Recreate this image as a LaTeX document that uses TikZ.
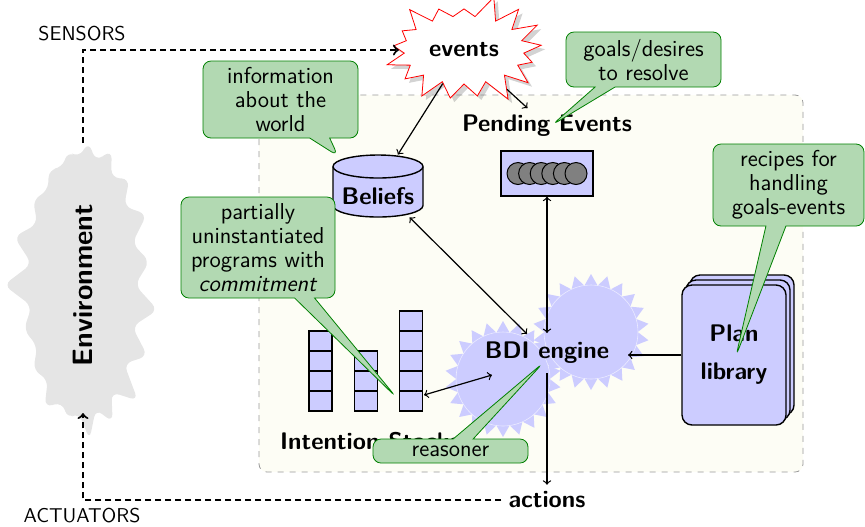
\documentclass[tikz,border=0pt]{standalone}
\usetikzlibrary{shapes.geometric,shapes.symbols,shapes.callouts,shadows}
\definecolor{panelfill}{RGB}{253,253,245}
\colorlet{notefill}{green!50!black!30}
\colorlet{noteline}{green!50!black}
\colorlet{partfill}{blue!20}
\begin{document}
\begin{tikzpicture}[x=0.5pt,y=-0.5pt,
  font=\sffamily,
  lbl/.style={font=\sffamily\bfseries\fontsize{12}{14}\selectfont},
  caps/.style={font=\sffamily\fontsize{10}{12}\selectfont},
  note/.style={rectangle callout, rounded corners=4pt, draw=noteline, fill=notefill,
    font=\sffamily\fontsize{11.5}{12}\selectfont, align=center, inner sep=0pt,
    callout pointer width=10pt, minimum width=77.5pt, text width=70pt},
  flow/.style={->, line width=0.6pt},
  twoway/.style={<->, line width=0.6pt},
  sense/.style={->, line width=1pt, dash pattern=on 3pt off 2pt},
  cell/.style={draw, fill=partfill, minimum width=11.5pt, minimum height=10pt,
    inner sep=0pt, line width=0.6pt},
  gear/.style={star, star points=22, star point ratio=1.24, minimum size=58pt,
    fill=partfill, inner sep=0pt},
  planbox/.style={draw, fill=partfill, rounded corners=5pt, minimum width=52pt,
    minimum height=70pt, line width=0.7pt},
]
\path[use as bounding box] (0,0) rectangle (865,526);

% agent panel
\draw[dashed, gray!80, fill=panelfill, rounded corners=4pt] (259,95) rectangle (803,472);

% environment
\node[starburst, random starburst=7, starburst points=19, starburst point height=15pt,
  rounded corners=4pt, fill=gray!20, rotate=90, minimum width=158pt, minimum height=82pt,
  font=\sffamily\bfseries\fontsize{14}{17}\selectfont] (env) at (83,285) {Environment};
\coordinate (envTop) at (83,143);
\coordinate (envBot) at (83,413);

% incoming events
\node[starburst, random starburst, draw=red, fill=white,
  drop shadow={opacity=.35, shadow xshift=2pt, shadow yshift=-2pt},
  starburst point height=12pt, minimum width=84pt, minimum height=58pt,
  inner sep=0pt, lbl] (events) at (464,50) {events};

% reasoning engine
\node[gear] (gearA) at (503,379) {};
\node[gear] (gearB) at (591,332) {};
\draw[white, opacity=.6, line width=0.3pt] (gearA.center) circle[radius=23.5pt];
\draw[white, opacity=.6, line width=0.3pt] (gearB.center) circle[radius=23.5pt];

% pending events queue
\node[lbl] (pendlbl) at (547,126) {Pending Events};
\node[draw, fill=partfill, minimum width=46pt, minimum height=22.5pt, line width=0.7pt]
  (queue) at (547,173.5) {};
\foreach \i in {0,...,5}
  \draw[fill=gray, line width=0.5pt] (518+11.6*\i,173.5) circle[radius=5.5pt];

% belief base
\path[draw, fill=partfill, line width=0.7pt] (333,166.5) -- (333,205.5)
  arc[start angle=180, end angle=360, x radius=22.5pt, y radius=5.75pt] -- (423,166.5)
  arc[start angle=0, end angle=180, x radius=22.5pt, y radius=5.75pt] -- cycle;
\draw[line width=0.7pt] (333,166.5)
  arc[start angle=180, end angle=360, x radius=22.5pt, y radius=5.75pt];
\node[minimum width=45pt, minimum height=31pt, inner sep=0pt] (beliefs) at (378,186) {};
\node[lbl] (beliefslbl) at (378,196) {Beliefs};

% intention stacks
\foreach \x/\n in {320.5/4, 366/3, 411/5}
  \foreach \k in {1,...,\n}
    \node[cell] at (\x,421-20*\k) {};
\coordinate (stk) at (424,395);
\node[lbl] (stacklbl) at (370,441) {Intention Stacks};

% plan library
\node[planbox] (planback) at (742,345) {};
\node[planbox] (planmid) at (738,350) {};
\node[planbox, lbl, align=center] (plan) at (734,355) {Plan\\[5pt]library};

% engine label and arrow ends
\node[lbl] (bdi) at (547,353) {BDI engine};
\coordinate (bdiT) at (547,333);
\coordinate (bdiB) at (547,373);
\coordinate (bdiNW) at (527,334);
\coordinate (bdiW) at (492,375);
\coordinate (bdiE) at (628,355);

\node[lbl] (actions) at (547,500) {actions};
\node[caps] (sensors) at (82,34) {SENSORS};
\node[caps] (actuators) at (82,516) {ACTUATORS};

% perception and action loop
\draw[sense] (envTop) |- (events);
\draw[sense] (actions) -| (envBot);

% internal flows
\draw[flow] (events) -- (beliefs);
\draw[flow] (events) -- (pendlbl);
\draw[twoway] (beliefs) -- (bdiNW);
\draw[twoway] (queue) -- (bdiT);
\draw[twoway] (stk) -- (bdiW);
\draw[flow] (plan) -- (bdiE);
\draw[flow] (bdiB) -- (actions);

% annotations
\coordinate (tipWorld) at (338,156);
\coordinate (tipGoals) at (552,125);
\coordinate (tipRecipes) at (736,356);
\coordinate (tipCommit) at (396,397);
\coordinate (tipReason) at (543,363);
\node[note, minimum height=38.5pt, callout absolute pointer={(tipWorld)}]
  (noteWorld) at (280.5,99.5) {information\\about the\\world};
\node[note, minimum height=27.5pt, callout absolute pointer={(tipGoals)}]
  (noteGoals) at (643.5,59.5) {goals/desires\\to resolve};
\node[note, minimum height=41pt, minimum width=75.5pt, callout absolute pointer={(tipRecipes)}]
  (noteRecipes) at (788.5,185) {recipes for\\handling\\goals-events};
\node[note, minimum height=50.5pt, minimum width=77pt, callout absolute pointer={(tipCommit)}]
  (noteCommit) at (258,247.5) {partially\\uninstantiated\\programs with\\\textit{commitment}};
\node[note, minimum height=12pt, callout absolute pointer={(tipReason)}]
  (noteReason) at (450.5,451) {reasoner};
\end{tikzpicture}
\end{document}
